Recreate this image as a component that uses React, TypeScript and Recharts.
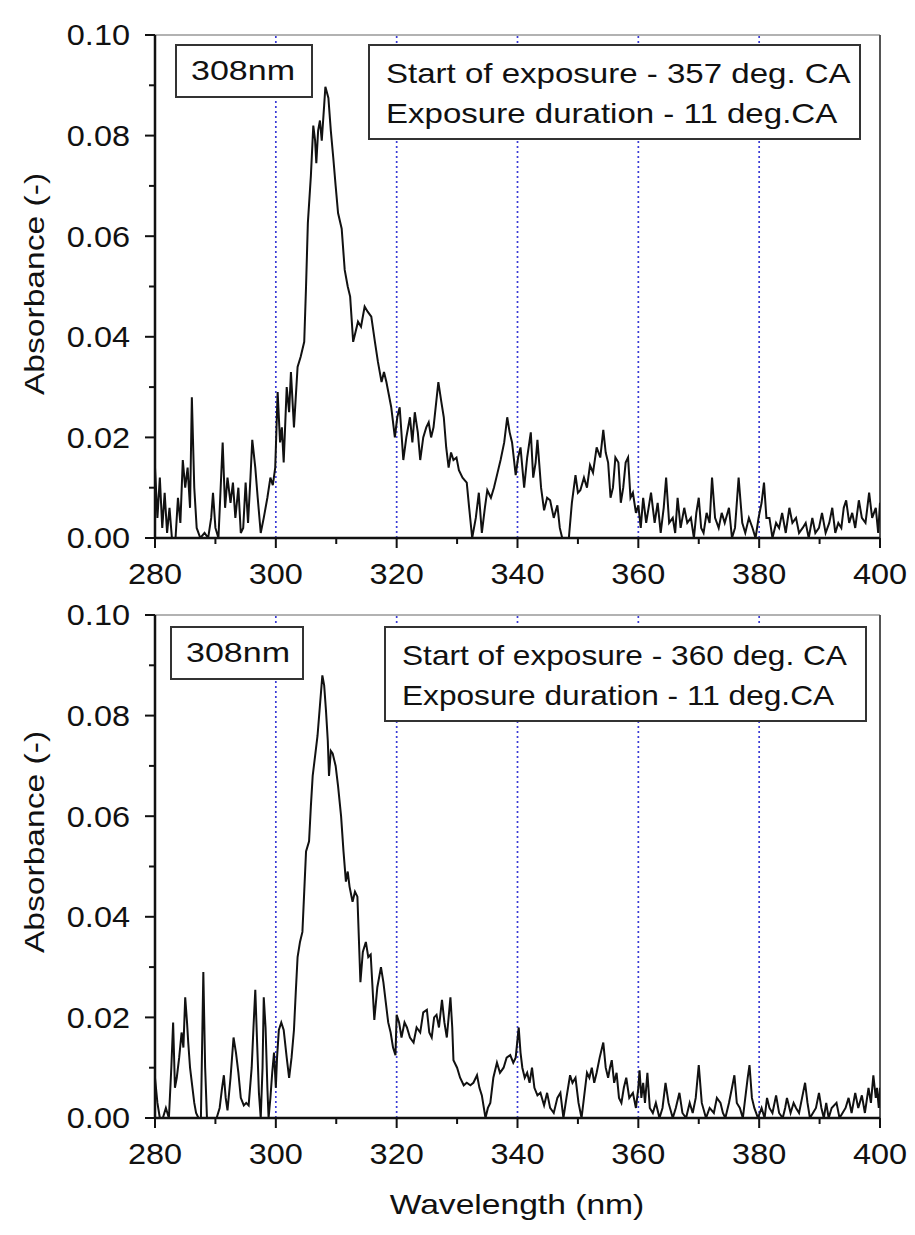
import React from 'react';
import { LineChart, Line, XAxis, YAxis, ReferenceLine } from 'recharts';

// wavelength (nm), absorbance (-)
const topSpectrum: [number, number][] = [
  [280.0, 0.014], [280.4, 0.004], [280.8, 0.012], [281.2, 0.002], [281.6, 0.009], [282.0, 0.001],
  [282.4, 0.006], [282.8, 0.0], [283.4, 0.0], [283.8, 0.008], [284.2, 0.003], [284.6, 0.0155],
  [285.0, 0.01], [285.4, 0.014], [285.8, 0.006], [286.1, 0.028], [286.5, 0.01], [286.9, 0.002],
  [287.5, 0.0], [288.2, 0.001], [288.8, 0.0], [289.3, 0.004], [289.6, 0.009], [290.0, 0.002],
  [290.5, 0.0], [291.2, 0.019], [291.6, 0.006], [292.0, 0.012], [292.5, 0.007], [292.9, 0.011],
  [293.3, 0.004], [293.8, 0.01], [294.2, 0.001], [294.6, 0.002], [295.0, 0.011], [295.4, 0.003],
  [295.8, 0.012], [296.1, 0.0195], [296.6, 0.014], [297.0, 0.008], [297.5, 0.001], [298.0, 0.004],
  [298.6, 0.008], [299.1, 0.012], [299.5, 0.0105], [299.9, 0.014], [300.3, 0.029], [300.7, 0.019],
  [301.0, 0.022], [301.3, 0.015], [301.8, 0.03], [302.2, 0.025], [302.5, 0.033], [303.0, 0.022],
  [303.6, 0.034], [304.1, 0.036], [304.7, 0.039], [305.0, 0.05], [305.3, 0.0626], [305.8, 0.072],
  [306.2, 0.082], [306.5, 0.079], [306.7, 0.0745], [307.0, 0.081], [307.3, 0.083], [307.6, 0.079],
  [308.0, 0.086], [308.2, 0.0897], [308.7, 0.0875], [309.1, 0.081], [309.5, 0.0757], [309.9, 0.07],
  [310.3, 0.0646], [310.9, 0.0615], [311.4, 0.0533], [311.9, 0.05], [312.3, 0.048], [312.8, 0.039],
  [313.2, 0.041], [313.6, 0.043], [314.1, 0.042], [314.7, 0.046], [315.2, 0.045], [315.8, 0.044],
  [316.4, 0.039], [316.9, 0.035], [317.5, 0.031], [317.9, 0.033], [318.3, 0.031], [319.1, 0.026],
  [319.7, 0.02], [320.1, 0.024], [320.5, 0.026], [321.1, 0.0155], [321.6, 0.02], [322.2, 0.024],
  [322.6, 0.019], [323.0, 0.025], [323.5, 0.021], [323.9, 0.0155], [324.4, 0.02], [324.9, 0.022],
  [325.3, 0.023], [325.7, 0.02], [326.1, 0.022], [326.9, 0.031], [327.4, 0.027], [327.8, 0.024],
  [328.2, 0.018], [328.6, 0.014], [329.0, 0.017], [329.4, 0.0155], [329.9, 0.016], [330.3, 0.0135],
  [330.9, 0.012], [331.6, 0.011], [332.0, 0.006], [332.5, 0.0], [333.1, 0.004], [333.6, 0.009],
  [334.1, 0.001], [334.6, 0.006], [335.0, 0.0095], [335.6, 0.008], [336.1, 0.01], [336.7, 0.013],
  [337.2, 0.0155], [337.8, 0.019], [338.3, 0.024], [338.7, 0.021], [339.1, 0.019], [339.7, 0.0125],
  [340.1, 0.016], [340.5, 0.018], [341.1, 0.01], [341.6, 0.016], [342.2, 0.021], [342.6, 0.012],
  [343.0, 0.015], [343.3, 0.0195], [343.9, 0.01], [344.4, 0.0055], [344.9, 0.008], [345.4, 0.0075],
  [346.0, 0.004], [346.6, 0.0065], [347.0, 0.002], [347.4, 0.0], [348.0, 0.0], [348.5, 0.0],
  [349.0, 0.007], [349.6, 0.0125], [350.0, 0.009], [350.4, 0.0095], [351.0, 0.012], [351.5, 0.01],
  [352.0, 0.0145], [352.5, 0.013], [353.1, 0.018], [353.7, 0.016], [354.2, 0.0215], [354.6, 0.017],
  [355.0, 0.015], [355.4, 0.008], [355.8, 0.01], [356.2, 0.016], [356.7, 0.015], [357.1, 0.007],
  [357.5, 0.01], [357.9, 0.015], [358.3, 0.016], [358.7, 0.008], [359.1, 0.009], [359.6, 0.005],
  [360.0, 0.0065], [360.4, 0.002], [360.8, 0.008], [361.3, 0.003], [362.1, 0.009], [362.7, 0.003],
  [363.2, 0.007], [363.7, 0.001], [364.2, 0.006], [364.6, 0.012], [365.1, 0.003], [365.7, 0.004],
  [366.1, 0.001], [366.5, 0.008], [367.0, 0.002], [367.6, 0.006], [368.1, 0.003], [368.7, 0.004],
  [369.2, 0.0], [369.6, 0.005], [370.0, 0.008], [370.4, 0.002], [370.8, 0.001], [371.3, 0.005],
  [371.8, 0.003], [372.2, 0.012], [372.7, 0.004], [373.3, 0.002], [373.8, 0.005], [374.3, 0.003],
  [375.0, 0.006], [375.5, 0.0], [376.0, 0.002], [376.6, 0.012], [377.2, 0.003], [377.7, 0.001],
  [378.3, 0.004], [378.9, 0.002], [379.4, 0.0], [379.9, 0.004], [380.4, 0.007], [380.8, 0.011],
  [381.2, 0.004], [381.7, 0.004], [382.2, 0.0], [382.8, 0.003], [383.3, 0.002], [383.8, 0.005],
  [384.4, 0.001], [385.0, 0.006], [385.5, 0.003], [386.1, 0.004], [386.6, 0.001], [387.2, 0.002],
  [387.7, 0.003], [388.2, 0.0], [388.8, 0.004], [389.3, 0.001], [389.9, 0.002], [390.4, 0.005],
  [391.0, 0.001], [391.6, 0.003], [392.1, 0.006], [392.6, 0.001], [393.1, 0.003], [393.6, 0.002],
  [394.0, 0.006], [394.4, 0.0075], [394.9, 0.003], [395.4, 0.005], [395.9, 0.002], [396.5, 0.0075],
  [397.0, 0.004], [397.6, 0.003], [398.2, 0.009], [398.7, 0.004], [399.3, 0.006], [399.7, 0.001],
  [400.0, 0.007],
];

// wavelength (nm), absorbance (-)
const bottomSpectrum: [number, number][] = [
  [280.0, 0.008], [280.4, 0.003], [280.8, 0.0], [281.3, 0.0], [281.8, 0.002], [282.3, 0.0],
  [282.7, 0.01], [283.0, 0.019], [283.3, 0.006], [283.6, 0.008], [284.0, 0.012], [284.4, 0.017],
  [284.7, 0.014], [285.0, 0.024], [285.3, 0.019], [285.5, 0.015], [285.8, 0.01], [286.1, 0.007],
  [286.5, 0.003], [286.8, 0.001], [287.2, 0.0], [287.6, 0.0], [288.0, 0.029], [288.3, 0.01],
  [288.6, 0.0], [289.1, 0.0], [289.6, 0.0], [290.2, 0.0], [290.7, 0.002], [291.1, 0.006],
  [291.4, 0.0085], [291.7, 0.004], [292.0, 0.0015], [292.5, 0.008], [293.0, 0.016], [293.4, 0.013],
  [293.8, 0.009], [294.2, 0.004], [294.7, 0.0025], [295.1, 0.003], [295.5, 0.0025], [296.0, 0.01],
  [296.3, 0.018], [296.6, 0.0255], [296.9, 0.015], [297.2, 0.005], [297.5, 0.0], [297.8, 0.01],
  [298.0, 0.024], [298.3, 0.018], [298.6, 0.006], [298.8, 0.0], [299.1, 0.004], [299.4, 0.009],
  [299.7, 0.013], [300.0, 0.006], [300.2, 0.012], [300.5, 0.0175], [300.9, 0.019], [301.3, 0.0175],
  [301.8, 0.012], [302.2, 0.008], [302.6, 0.012], [303.0, 0.0175], [303.3, 0.025], [303.6, 0.032],
  [304.0, 0.035], [304.4, 0.037], [304.7, 0.045], [305.0, 0.053], [305.5, 0.055], [305.8, 0.062],
  [306.1, 0.068], [306.5, 0.072], [306.9, 0.076], [307.3, 0.082], [307.7, 0.088], [308.0, 0.086],
  [308.3, 0.081], [308.6, 0.075], [308.8, 0.068], [309.1, 0.073], [309.4, 0.0725], [309.9, 0.07],
  [310.3, 0.066], [310.8, 0.06], [311.2, 0.053], [311.6, 0.047], [311.9, 0.049], [312.2, 0.046],
  [312.7, 0.043], [313.1, 0.045], [313.5, 0.044], [314.0, 0.027], [314.4, 0.033], [314.9, 0.035],
  [315.3, 0.032], [315.7, 0.0325], [316.0, 0.026], [316.3, 0.0195], [316.8, 0.026], [317.4, 0.03],
  [317.8, 0.027], [318.2, 0.023], [318.6, 0.019], [319.0, 0.017], [319.4, 0.014], [319.8, 0.0125],
  [320.0, 0.0205], [320.4, 0.019], [320.8, 0.016], [321.3, 0.019], [321.7, 0.018], [322.2, 0.016],
  [322.8, 0.015], [323.3, 0.018], [323.9, 0.017], [324.4, 0.021], [325.0, 0.0215], [325.4, 0.017],
  [325.8, 0.016], [326.2, 0.02], [326.6, 0.0205], [327.0, 0.018], [327.5, 0.0235], [327.9, 0.019],
  [328.3, 0.016], [328.6, 0.02], [328.9, 0.024], [329.2, 0.018], [329.4, 0.0115], [330.0, 0.01],
  [330.5, 0.008], [331.1, 0.0065], [331.6, 0.007], [332.2, 0.0065], [332.7, 0.007], [333.3, 0.0085],
  [333.7, 0.006], [334.1, 0.0045], [334.7, 0.0], [335.1, 0.002], [335.5, 0.003], [336.0, 0.008],
  [336.6, 0.011], [337.1, 0.009], [337.7, 0.01], [338.2, 0.012], [338.8, 0.0125], [339.3, 0.011],
  [339.7, 0.012], [340.2, 0.018], [340.5, 0.013], [340.8, 0.01], [341.2, 0.008], [341.6, 0.009],
  [342.0, 0.007], [342.4, 0.01], [342.8, 0.006], [343.3, 0.0045], [343.8, 0.005], [344.4, 0.0025],
  [344.9, 0.005], [345.4, 0.002], [346.0, 0.001], [346.6, 0.004], [347.1, 0.005], [347.6, 0.0],
  [348.1, 0.004], [348.7, 0.0085], [349.1, 0.007], [349.6, 0.008], [350.1, 0.003], [350.6, 0.0],
  [351.0, 0.004], [351.5, 0.009], [351.9, 0.008], [352.3, 0.01], [352.7, 0.007], [353.1, 0.009],
  [353.6, 0.012], [354.2, 0.015], [354.6, 0.01], [355.0, 0.008], [355.3, 0.01], [355.6, 0.0115],
  [356.0, 0.007], [356.4, 0.009], [356.8, 0.004], [357.2, 0.003], [357.6, 0.006], [358.0, 0.008],
  [358.5, 0.004], [359.1, 0.005], [359.6, 0.002], [360.0, 0.006], [360.2, 0.0095], [360.5, 0.004],
  [360.8, 0.007], [361.1, 0.003], [361.5, 0.009], [361.9, 0.002], [362.4, 0.001], [362.9, 0.003],
  [363.5, 0.0], [364.0, 0.002], [364.5, 0.007], [365.0, 0.003], [365.7, 0.0], [366.2, 0.002],
  [366.8, 0.005], [367.3, 0.001], [367.9, 0.0], [368.5, 0.003], [369.0, 0.001], [369.5, 0.004],
  [370.0, 0.0105], [370.5, 0.003], [371.2, 0.0], [371.8, 0.002], [372.5, 0.001], [373.0, 0.004],
  [373.6, 0.003], [374.0, 0.001], [374.4, 0.0], [375.0, 0.003], [375.5, 0.006], [375.9, 0.0085],
  [376.3, 0.003], [376.8, 0.002], [377.3, 0.0], [377.8, 0.005], [378.1, 0.008], [378.4, 0.0105],
  [378.8, 0.004], [379.2, 0.002], [379.8, 0.0], [380.4, 0.002], [380.9, 0.0], [381.3, 0.004],
  [381.7, 0.002], [382.2, 0.001], [382.8, 0.0045], [383.3, 0.001], [383.9, 0.0], [384.3, 0.002],
  [384.6, 0.004], [385.2, 0.001], [385.7, 0.003], [386.1, 0.002], [386.6, 0.001], [387.1, 0.004],
  [387.6, 0.007], [388.0, 0.003], [388.4, 0.0], [388.9, 0.001], [389.4, 0.002], [389.9, 0.005],
  [390.3, 0.002], [390.7, 0.0], [391.1, 0.003], [391.5, 0.0], [392.0, 0.002], [392.8, 0.003],
  [393.3, 0.0], [393.8, 0.001], [394.3, 0.002], [394.8, 0.004], [395.3, 0.001], [395.9, 0.005],
  [396.4, 0.002], [397.0, 0.0045], [397.5, 0.001], [398.1, 0.006], [398.5, 0.003], [398.9, 0.0085],
  [399.3, 0.004], [399.5, 0.006], [399.8, 0.002], [400.0, 0.006],
];

const xTicks = [280, 290, 300, 310, 320, 330, 340, 350, 360, 370, 380, 390, 400];
const yTicks = [0, 0.01, 0.02, 0.03, 0.04, 0.05, 0.06, 0.07, 0.08, 0.09, 0.1];
const guideLines = [300, 320, 340, 360, 380];

const peakLabel = '308nm';
const topNotes = ['Start of exposure - 357 deg. CA', 'Exposure duration - 11 deg.CA'];
const bottomNotes = ['Start of exposure - 360 deg. CA', 'Exposure duration - 11 deg.CA'];

const FONT = '"Liberation Sans", Arial, Helvetica, sans-serif';
const TICK = 10;
const X_MARGIN = 15;
const Y_MARGIN = 15;

const YTick = (props: any) => {
  const { x, y, payload } = props;
  const v = payload.value as number;
  const major = Math.round(v * 100) % 2 === 0;
  const ax = x + TICK + Y_MARGIN;
  return (
    <g>
      <line x1={ax} x2={ax - (major ? 10 : 6)} y1={y} y2={y} stroke="#111" strokeWidth={2} />
      {major && (
        <text transform={`translate(${x},${y}) scale(1.12,1)`} textAnchor="end" dy="0.36em"
          fontFamily={FONT} fontSize={29} fill="#111">
          {v.toFixed(2)}
        </text>
      )}
    </g>
  );
};

const XTick = (props: any) => {
  const { x, y, payload } = props;
  const v = payload.value as number;
  const major = v % 20 === 0;
  const ay = y - TICK - X_MARGIN;
  return (
    <g>
      <line x1={x} x2={x} y1={ay} y2={ay + (major ? 10 : 6)} stroke="#111" strokeWidth={2} />
      {major && (
        <text transform={`translate(${x},${y}) scale(1.12,1)`} textAnchor="middle" dy="0.74em"
          fontFamily={FONT} fontSize={29} fill="#111">
          {v}
        </text>
      )}
    </g>
  );
};

const Panel = ({ spectrum, top, height, bottom }: { spectrum: [number, number][]; top: number; height: number; bottom: number }) => {
  const data = spectrum.map(([wl, a]) => ({ wl, a }));
  return (
    <div style={{ position: 'absolute', left: 0, top }}>
      <LineChart width={915} height={height} data={data} margin={{ top: 35, right: 35, left: 75, bottom }}>
        <XAxis type="number" dataKey="wl" domain={[280, 400]} ticks={xTicks} interval={0} allowDataOverflow
          height={50} tickSize={TICK} tickMargin={X_MARGIN} tickLine={false}
          axisLine={{ stroke: '#111', strokeWidth: 2.5 }} tick={(p: any) => <XTick {...p} />} />
        <YAxis type="number" domain={[0, 0.1]} ticks={yTicks} interval={0} allowDataOverflow
          width={80} tickSize={TICK} tickMargin={Y_MARGIN} tickLine={false}
          axisLine={{ stroke: '#111', strokeWidth: 2.5 }} tick={(p: any) => <YTick {...p} />} />
        <ReferenceLine y={0.1} stroke="#999" strokeWidth={1.5} />
        <ReferenceLine x={400} stroke="#555" strokeWidth={2} />
        {guideLines.map((g) => (
          <ReferenceLine key={g} x={g} stroke="#3b3bd6" strokeWidth={1.7} strokeDasharray="2 3" />
        ))}
        <Line type="linear" dataKey="a" stroke="#111" strokeWidth={2} dot={false} isAnimationActive={false} />
      </LineChart>
    </div>
  );
};

const boxStyle: React.CSSProperties = {
  position: 'absolute',
  background: '#fff',
  border: '2px solid #333',
  boxSizing: 'border-box',
  fontFamily: FONT,
  color: '#111',
};

const Notes = ({ peak, notes, top, peakLeft, peakWidth, noteLeft, noteWidth, stretch }: any) => (
  <>
    <div style={{ ...boxStyle, left: peakLeft, top, width: peakWidth, height: 54, fontSize: 27, lineHeight: '50px', paddingLeft: 14 }}>
      <div style={{ transform: 'scaleX(1.26)', transformOrigin: 'left center', whiteSpace: 'nowrap' }}>{peak}</div>
    </div>
    <div style={{ ...boxStyle, left: noteLeft, top, width: noteWidth, height: 96, fontSize: 28, paddingLeft: 16, paddingTop: 8, lineHeight: '40px' }}>
      {notes.map((n: string) => (
        <div key={n} style={{ transform: `scaleX(${stretch})`, transformOrigin: 'left center', whiteSpace: 'nowrap' }}>{n}</div>
      ))}
    </div>
  </>
);

export default function App() {
  return (
    <div style={{ position: 'absolute', left: 0, top: 0, width: 915, height: 1235, background: '#fff', overflow: 'hidden' }}>
      <Panel spectrum={topSpectrum} top={0} height={600} bottom={12} />
      <Panel spectrum={bottomSpectrum} top={580} height={655} bottom={67} />
      <Notes peak={peakLabel} notes={topNotes} top={44} peakLeft={175} peakWidth={138} noteLeft={368} noteWidth={493} stretch={1.18} />
      <Notes peak={peakLabel} notes={bottomNotes} top={626} peakLeft={170} peakWidth={134} noteLeft={384} noteWidth={483} stretch={1.13} />
      {[284, 842].map((cy) => (
        <div key={cy} style={{ position: 'absolute', left: 35, top: cy, transform: 'translate(-50%,-50%) rotate(-90deg) scaleX(1.2)', fontFamily: FONT, fontSize: 28, color: '#111', whiteSpace: 'nowrap' }}>
          Absorbance (-)
        </div>
      ))}
      <div style={{ position: 'absolute', left: 517, top: 1205, transform: 'translate(-50%,-50%) scaleX(1.2)', fontFamily: FONT, fontSize: 28, color: '#111', whiteSpace: 'nowrap' }}>
        Wavelength (nm)
      </div>
    </div>
  );
}
